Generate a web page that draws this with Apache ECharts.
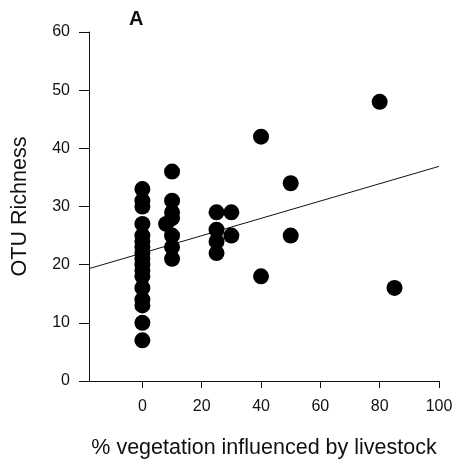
<!DOCTYPE html>
<html>
<head>
<meta charset="utf-8">
<script src="https://cdn.jsdelivr.net/npm/echarts@6/dist/echarts.min.js"></script>
<style>
  html, body { margin: 0; padding: 0; background: #fff; }
  #chart { width: 458px; height: 466px; }
</style>
</head>
<body>
<div id="chart"></div>
<script>
// % vegetation influenced by livestock (x) vs. OTU richness (y), one entry per sample
const sampleX = [
  0, 0, 0, 0, 0, 0, 0, 0, 0, 0, 0, 0, 0, 0, 0, 0, 0,
  8,
  10, 10, 10, 10, 10, 10, 10,
  25, 25, 25, 25,
  30, 30,
  40, 40,
  50, 50,
  80,
  85
];
const sampleY = [
  7, 10, 13, 14, 16, 18, 19, 20, 21, 22, 23, 24, 25, 27, 30, 31, 33,
  27,
  21, 23, 25, 28, 29, 31, 36,
  22, 24, 26, 29,
  25, 29,
  18, 42,
  25, 34,
  48,
  16
];

// Linear fit: richness = intercept + slope * x
const trendIntercept = 22.0;
const trendSlope = 0.149;

// Axis extents and tick labels
const xRange = [-18, 100];
const xTicks = [0, 20, 40, 60, 80, 100];
const yRange = [0, 60];
const yStep = 10;

const points = sampleX.map((x, i) => [x, sampleY[i]]);
const trend = xRange.map(x => [x, trendIntercept + trendSlope * x]);

const font = '"Liberation Sans", Arial, sans-serif';
const ink = '#111';

const chart = echarts.init(document.getElementById('chart'), null, { renderer: 'canvas' });
chart.setOption({
  backgroundColor: '#fff',
  animation: false,
  title: {
    text: 'A',
    left: 129,
    top: 9,
    padding: 0,
    textStyle: { fontFamily: font, fontSize: 20, fontWeight: 'bold', color: ink }
  },
  grid: { left: 89, right: 19, top: 32, bottom: 85, containLabel: false },
  xAxis: {
    type: 'value',
    min: xRange[0],
    max: xRange[1],
    name: '% vegetation influenced by livestock',
    nameLocation: 'middle',
    nameGap: 56,
    nameTextStyle: { fontFamily: font, fontSize: 21.5, color: ink },
    axisLine: { show: true, onZero: false, lineStyle: { color: ink, width: 1 } },
    axisTick: { show: true, customValues: xTicks, length: 7, lineStyle: { color: ink } },
    axisLabel: { customValues: xTicks, margin: 18, fontFamily: font, fontSize: 16, color: ink },
    splitLine: { show: false }
  },
  yAxis: {
    type: 'value',
    min: yRange[0],
    max: yRange[1],
    interval: yStep,
    name: 'OTU Richness',
    nameLocation: 'middle',
    nameGap: 58,
    nameTextStyle: { fontFamily: font, fontSize: 21.5, color: ink },
    axisLine: { show: true, onZero: false, lineStyle: { color: ink, width: 1 } },
    axisTick: { show: true, length: 10, lineStyle: { color: ink } },
    axisLabel: { margin: 19, fontFamily: font, fontSize: 16, color: ink },
    splitLine: { show: false }
  },
  series: [
    {
      type: 'line',
      data: trend,
      symbol: 'none',
      lineStyle: { color: ink, width: 1 },
      z: 1
    },
    {
      type: 'scatter',
      data: points,
      symbol: 'circle',
      symbolSize: 16,
      itemStyle: { color: '#000', opacity: 1 },
      z: 2
    }
  ]
});
</script>
</body>
</html>
